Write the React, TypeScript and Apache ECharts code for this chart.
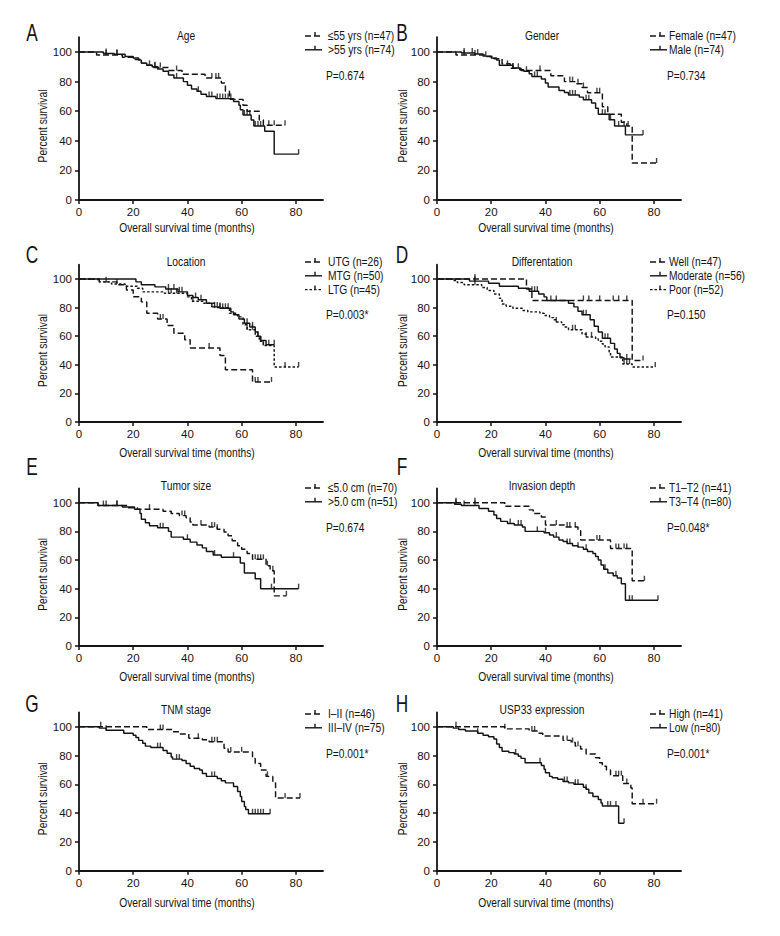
import React, { useEffect, useRef } from 'react';
import * as echarts from 'echarts';

const FONT = "'Liberation Sans', Arial, sans-serif";
const INK = '#141414';

const xTicks = [0, 20, 40, 60, 80];
const yTicks = [0, 20, 40, 60, 80, 100];
const xAxisTitle = 'Overall survival time (months)';
const yAxisTitle = 'Percent survival';

// ---- A: Age ----
const ageYoung = [[0,100],[6.5,98],[16,96.5],[20,95],[23,92.5],[25,91],[27,89.5],[33,87.5],[38,85],[46.5,82.5],[52.5,79],[54,73.5],[55.5,68],[60.5,64],[62,60],[66.5,54],[68,50.5],[76,50.5]];
const ageYoungCens = [10,14,28,30,36,49,50.5,51.5,70,72,76];
const ageOld = [[0,100],[9,99],[13,98.5],[17,97],[20,96],[22,94.5],[23,92.5],[25,91],[27,90],[29,88.5],[31,87],[33,84.5],[35,82.5],[38.5,80],[40,77.5],[41.5,75],[43.5,73.5],[45,71.5],[47,70],[50.5,68.5],[57,66.5],[59,64],[59.5,61],[60.5,57.5],[63.5,54],[64.5,50],[68.5,46.5],[72,31],[81,31]];
const ageOldCens = [10,14,26,28,36,44,48,49,51,52,53,54,55,56,61,62,63,65,66,67,81];

// ---- B: Gender ----
const female = [[0,100],[7,98],[18,97],[21,95.5],[24,92],[27,89],[31,87.5],[42,84],[47,80],[51.5,78.5],[53.5,76],[55.5,72.5],[61,63],[63,58],[68,52.5],[70,50],[72,25],[81,25]];
const femaleCens = [10,14,28,30,38,49,50,52,54,59,60,70.5,81];
const male = [[0,100],[9,99.3],[14,98.6],[17,97.2],[20,96],[22,94.5],[23,91],[28,89.2],[30.5,88],[32,87],[34,85.3],[35,83.5],[38.5,81.7],[40,79],[41,76.3],[45,74],[47,72.7],[48.5,71],[52.5,69.5],[54,67.7],[57,65.5],[58.5,62],[59.5,58],[63.5,54.2],[65.5,50],[69.5,44],[76,44]];
const maleCens = [10,13,15,18,26,28,33,36,37,49,50,51,55,56,61,62,64,67,69,76];

// ---- C: Location ----
const utg = [[0,100],[7.5,98],[14,96],[17.5,92.3],[20,87.6],[23,84],[25,76],[29,72],[32.5,67.5],[35,62],[39,57.5],[41,51.8],[52,46.5],[54,36.5],[64,28],[71,28]];
const utgCens = [30,31,48,65,66,71];
const mtg = [[0,100],[21,98],[23,96],[28,94.5],[32,93],[36.5,91],[40,88.5],[42,87],[44,85.5],[47,83],[49,80.5],[52,79.5],[56,77],[57,75],[59,72],[61,69],[63,66.5],[65,63],[66,60],[67,57],[69,54],[72,54]];
const mtgCens = [33,35,37,38,43,45,50,51,52,53,54,55,62,64,66,70,72];
const ltg = [[0,100],[7,98],[12,96.5],[17,95],[21.5,93.5],[23.5,91],[31.5,90],[40,87.5],[41.5,84.5],[46,83],[50,80],[55.5,76],[58.5,73.5],[60.5,68],[62,64.5],[65,60],[66.5,56.5],[68,53.5],[72,38.5],[81,38.5]];
const ltgCens = [10,14,33,34,36,42,52,62,64,67,68,76,81];

// ---- D: Differentation ----
const well = [[0,100],[33,93],[35,85],[72,43],[76,43]];
const wellCens = [14,44,54,56,60,65,67,70,76];
const moderate = [[0,100],[12,98.5],[19,97],[23,95],[30,93.5],[34,91.5],[37.5,89.5],[39.5,87.5],[40.5,85],[48.5,83],[50.5,80.5],[52,77.5],[53.5,75],[56.5,71.5],[58,67],[59.5,63],[61,58.5],[64,55],[65.5,51],[66.5,48],[67.5,45],[69,44],[71.5,44]];
const moderateCens = [14,35,36,37,42,54,55,62,63,70];
const poor = [[0,100],[5.5,99],[7.5,97.5],[10,96],[16.5,94],[18.5,92],[21,89.5],[23,86.5],[24,82.5],[25.5,81],[28,79.5],[31.5,78],[33.5,77],[38,76],[39.5,74.5],[41.5,73],[43,71.5],[44,70],[46,68],[47,66.5],[48.5,64.5],[53.5,61.5],[55,59.5],[58.5,58],[59.5,56.5],[61,54.5],[62,52.5],[63.5,49],[64,45.5],[68.5,40.5],[72,38.5],[80.5,38.5]];
const poorCens = [14,44,50,51,55,57,69,70,71,80.5];

// ---- E: Tumor size ----
const sizeSmall = [[0,100],[7,98],[18,96.5],[21.5,95.5],[31,94],[34,92.5],[37,91],[39.5,89.5],[41,86.5],[42,84.5],[48,83],[51,81.5],[53.5,79.5],[55,77],[56.5,73.5],[58.5,70],[60,67.5],[62,64.5],[64,60.5],[69,56],[70.5,52.5],[72,35],[76.5,35]];
const sizeSmallCens = [9,14,26,38,39,45,49,50,51,65,66,67,68,69.5,71.5,76.5];
const sizeLarge = [[0,100],[7,98],[16,97],[20.5,95.5],[22.5,92.5],[23,88.5],[24.5,86],[26,84],[29,82.5],[33,80],[34,76],[38.5,74.5],[41,72.5],[43.5,70.5],[45.5,68.5],[47,66],[49.5,63.5],[52.5,62],[59.5,58],[61,51],[65,47],[67,40],[81,40]];
const sizeLargeCens = [10,14,30,31,40,50,57,71,81];

// ---- F: Invasion depth ----
const t12 = [[0,100],[25,97.5],[34,95],[35.5,92.5],[38.5,90],[40,84.5],[47,83],[52,80.5],[53,74],[64,68],[72,45.5],[76.5,45.5]];
const t12Cens = [7,14,44,48,49,51,59,60,66,67,69,70,76.5];
const t34 = [[0,100],[6.5,99],[9,98],[15.5,96],[19,94],[21,91.5],[22,89],[23.5,87],[26,85.5],[28.5,84.5],[31.5,83],[32.5,80],[39.5,79],[41.5,77.5],[43,76],[45,74],[46.5,73],[48,71.5],[50,70],[52,69],[54,67.5],[55.5,66],[57.5,64.5],[58.5,62.5],[59.5,60],[60.5,56.5],[61.5,53.5],[63,51],[65,49],[66.5,47.5],[68,43.5],[69.5,32],[81.5,32]];
const t34Cens = [7,10,14,27,30,31,37,40,44,48,49,52,55,62,66,71,72,81.5];

// ---- G: TNM stage ----
const stage12 = [[0,100],[25,98],[34.5,96.5],[37,95],[40.5,92],[45.5,91],[48,89.5],[53.5,85],[55,82.5],[64,78],[65,74.5],[67,70],[69,65.5],[71.5,61],[72.5,50.5],[81.5,50.5]];
const stage12Cens = [8,30,31,44,49,50,51,56,60,69.5,76,81.5];
const stage34 = [[0,100],[7.5,99],[10,97.5],[16.5,95.5],[20,94],[21,92.5],[22,90.5],[23.5,88.5],[24.5,86.5],[26.5,85.5],[31,83.5],[32.5,81.5],[34,79],[34.5,77.5],[38,76.5],[39.5,74.5],[41,72.5],[42.5,71],[44.5,70],[45.5,67.5],[47,65.5],[51,64],[52.5,62.5],[54,61],[57,58.5],[58.5,55],[59.5,51.5],[60,48],[61,44.5],[61.5,42.5],[62.5,39.5],[70.5,39.5]];
const stage34Cens = [10,29,30,36,37,49,50,64,65,66,67,68,70.5];

// ---- H: USP33 expression ----
const high = [[0,100],[25,98.5],[34,97],[37,95.5],[39,93.5],[46.5,90.5],[49.5,89],[51,86.5],[53,84.5],[55,81],[58.5,78.5],[60,75],[61,72.5],[62.5,70],[64,66],[68.5,60.5],[71.5,57.5],[72,46.5],[81,46.5]];
const highCens = [7,25,35,36,48,50,52,66,67,68,70,76,81];
const low = [[0,100],[6,99],[8,98],[10.5,97],[15,95.5],[17,94],[19,93],[21,91.5],[22,88],[23,85.5],[24,83],[26.5,82],[28.5,81],[30,79.5],[31,78],[32.5,75],[38.5,73],[39.5,70.5],[40,68],[41.5,65.5],[42.5,64.5],[44.5,63.5],[46.5,62],[48.5,61],[50.5,60],[54,58],[55,56.5],[56,54],[57.5,51.5],[59.5,49.5],[60.5,47],[61,45],[67,33],[69,33]];
const lowCens = [15,29,38,47,48,51,52,55,63,64,66,69];

const panelLetters = ['A', 'B', 'C', 'D', 'E', 'F', 'G', 'H'];
const panelTitles = ['Age', 'Gender', 'Location', 'Differentation', 'Tumor size', 'Invasion depth', 'TNM stage', 'USP33 expression'];
const pValues = ['P=0.674', 'P=0.734', 'P=0.003*', 'P=0.150', 'P=0.674', 'P=0.048*', 'P=0.001*', 'P=0.001*'];

type Curve = { name: string; steps: number[][]; cens: number[]; dash: 'dash' | 'solid' | 'dot' };
const panelCurves: Curve[][] = [
  [
    { name: '≤55 yrs (n=47)', steps: ageYoung, cens: ageYoungCens, dash: 'dash' },
    { name: '>55 yrs (n=74)', steps: ageOld, cens: ageOldCens, dash: 'solid' },
  ],
  [
    { name: 'Female (n=47)', steps: female, cens: femaleCens, dash: 'dash' },
    { name: 'Male (n=74)', steps: male, cens: maleCens, dash: 'solid' },
  ],
  [
    { name: 'UTG (n=26)', steps: utg, cens: utgCens, dash: 'dash' },
    { name: 'MTG (n=50)', steps: mtg, cens: mtgCens, dash: 'solid' },
    { name: 'LTG (n=45)', steps: ltg, cens: ltgCens, dash: 'dot' },
  ],
  [
    { name: 'Well (n=47)', steps: well, cens: wellCens, dash: 'dash' },
    { name: 'Moderate (n=56)', steps: moderate, cens: moderateCens, dash: 'solid' },
    { name: 'Poor (n=52)', steps: poor, cens: poorCens, dash: 'dot' },
  ],
  [
    { name: '≤5.0 cm (n=70)', steps: sizeSmall, cens: sizeSmallCens, dash: 'dash' },
    { name: '>5.0 cm (n=51)', steps: sizeLarge, cens: sizeLargeCens, dash: 'solid' },
  ],
  [
    { name: 'T1–T2 (n=41)', steps: t12, cens: t12Cens, dash: 'dash' },
    { name: 'T3–T4 (n=80)', steps: t34, cens: t34Cens, dash: 'solid' },
  ],
  [
    { name: 'I–II (n=46)', steps: stage12, cens: stage12Cens, dash: 'dash' },
    { name: 'III–IV (n=75)', steps: stage34, cens: stage34Cens, dash: 'solid' },
  ],
  [
    { name: 'High (n=41)', steps: high, cens: highCens, dash: 'dash' },
    { name: 'Low (n=80)', steps: low, cens: lowCens, dash: 'solid' },
  ],
];

// ---- layout (pixels) ----
const COL_LEFT = [79, 437];
const GRID_W = 244;
const COL_LETTER_X = [32, 402];
const COL_TITLE_X = [186, 542];
const COL_XTITLE_X = [187, 546];
const COL_YNAME_X = [43, 403];
const COL_LEG_X = [305, 650];
const COL_LEG_TEXT_X = [328, 669];
const ROWS = [
  { top: 37.2, h: 162.8, letterY: 33, titleY: 36, legY: 36, pY: 76, xTitleY: 228 },
  { top: 264.7, h: 157.3, letterY: 255, titleY: 262, legY: 262, pY: 315, xTitleY: 453 },
  { top: 488.4, h: 157.6, letterY: 467, titleY: 486, legY: 488, pY: 528, xTitleY: 677 },
  { top: 712.3, h: 158.4, letterY: 704, titleY: 710, legY: 714, pY: 754, xTitleY: 903 },
];
const LEG_STEP = 13.8;
const NARROW = 0.82;

const DASHES: Record<string, any> = { dash: [6, 3], solid: 'solid', dot: [2.5, 2] };

function survivalAt(steps: number[][], t: number): number {
  let s = steps[0][1];
  for (const p of steps) {
    if (p[0] <= t) s = p[1];
    else break;
  }
  return s;
}

function txt(x: number, y: number, text: string, size: number, align = 'left', extra: any = {}, sx = NARROW) {
  return {
    type: 'text',
    x,
    y,
    scaleX: sx,
    silent: true,
    ...extra,
    style: {
      text,
      fontSize: size,
      fontFamily: FONT,
      fill: INK,
      align,
      textAlign: align,
      verticalAlign: 'middle',
      textVerticalAlign: 'middle',
    },
  };
}

function buildOption() {
  const grid: any[] = [];
  const xAxis: any[] = [];
  const yAxis: any[] = [];
  const series: any[] = [];
  const graphic: any[] = [];

  panelCurves.forEach((curves, i) => {
    const col = i % 2;
    const row = ROWS[Math.floor(i / 2)];
    grid.push({ left: COL_LEFT[col], top: row.top, width: GRID_W, height: row.h, containLabel: false });
    xAxis.push({
      gridIndex: i,
      type: 'value',
      min: 0,
      max: 90,
      axisLine: { show: true, onZero: false, lineStyle: { color: INK, width: 1.8 } },
      axisTick: { show: true, length: 4, customValues: xTicks, lineStyle: { color: INK, width: 1.5 } },
      axisLabel: { customValues: xTicks, fontSize: 11.5, fontFamily: FONT, color: INK, margin: 6 },
      splitLine: { show: false },
    });
    yAxis.push({
      gridIndex: i,
      type: 'value',
      min: 0,
      max: 110,
      axisLine: { show: true, onZero: false, lineStyle: { color: INK, width: 1.8 } },
      axisTick: { show: true, length: 4, customValues: yTicks, lineStyle: { color: INK, width: 1.5 } },
      axisLabel: { customValues: yTicks, fontSize: 11.5, fontFamily: FONT, color: INK, margin: 7 },
      splitLine: { show: false },
    });

    curves.forEach((c, j) => {
      series.push({
        type: 'line',
        name: c.name,
        xAxisIndex: i,
        yAxisIndex: i,
        data: c.steps,
        step: 'end',
        symbol: 'none',
        showSymbol: false,
        silent: true,
        lineStyle: { color: INK, width: 1.45, type: DASHES[c.dash] },
        z: 3,
      });
      series.push({
        type: 'scatter',
        xAxisIndex: i,
        yAxisIndex: i,
        data: c.cens.map((t) => [t, survivalAt(c.steps, t)]),
        symbol: 'rect',
        symbolSize: [1.4, 5],
        symbolOffset: [0, -2.5],
        silent: true,
        itemStyle: { color: INK },
        z: 4,
      });

      // legend sample
      const ly = row.legY + j * LEG_STEP;
      const lx = COL_LEG_X[col];
      graphic.push({
        type: 'line',
        silent: true,
        shape: { x1: lx, y1: ly, x2: lx + 17, y2: ly },
        style: { stroke: INK, lineWidth: 1.4, lineDash: c.dash === 'solid' ? null : DASHES[c.dash] },
      });
      graphic.push({
        type: 'line',
        silent: true,
        shape: { x1: lx + 10, y1: ly, x2: lx + 10, y2: ly - 4 },
        style: { stroke: INK, lineWidth: 1.4 },
      });
      graphic.push(txt(COL_LEG_TEXT_X[col], ly, c.name, 12.5));
    });

    graphic.push(txt(COL_LETTER_X[col], row.letterY, panelLetters[i], 23, 'center', {}, 0.75));
    graphic.push(txt(COL_TITLE_X[col], row.titleY, panelTitles[i], 12.5, 'center'));
    graphic.push(txt(COL_XTITLE_X[col], row.xTitleY, xAxisTitle, 12.5, 'center'));
    graphic.push(txt(COL_LEG_TEXT_X[col] - 2, row.pY, pValues[i], 12.5));
    const yMid = row.top + row.h * (1 - 50 / 110);
    graphic.push(txt(COL_YNAME_X[col], yMid, yAxisTitle, 12.5, 'center', { rotation: Math.PI / 2 }));
  });

  return {
    animation: false,
    backgroundColor: '#ffffff',
    grid,
    xAxis,
    yAxis,
    series,
    graphic: { elements: graphic },
  };
}

export default function App() {
  const ref = useRef<HTMLDivElement>(null);
  useEffect(() => {
    if (!ref.current) return;
    const chart = echarts.init(ref.current, undefined, { renderer: 'svg' });
    chart.setOption(buildOption() as any);
    return () => chart.dispose();
  }, []);
  return (
    <div
      ref={ref}
      style={{ position: 'absolute', left: 0, top: 0, width: 780, height: 936, background: '#fff' }}
    />
  );
}
